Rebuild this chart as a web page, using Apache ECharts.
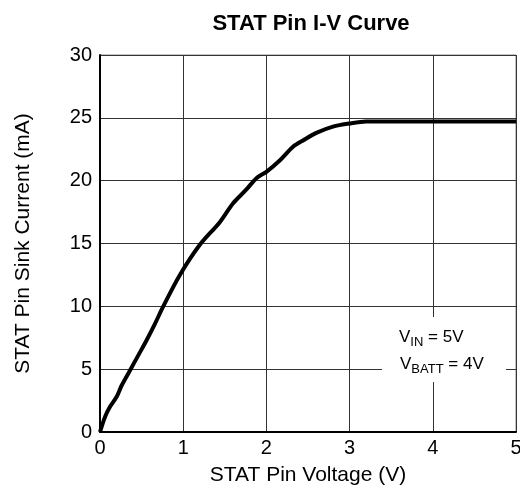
<!DOCTYPE html>
<html>
<head>
<meta charset="utf-8">
<script src="https://cdn.jsdelivr.net/npm/echarts@6/dist/echarts.min.js"></script>
<style>
  html, body { margin: 0; padding: 0; background: #fff; }
  #chart { width: 520px; height: 488px; }
</style>
</head>
<body>
<div id="chart"></div>
<script>
// STAT pin voltage (V) vs sink current (mA)
const voltage = [0, 0.06, 0.12, 0.2, 0.26, 0.36, 0.46, 0.56, 0.66, 0.76, 0.96, 1.2, 1.44, 1.6, 1.76, 1.88, 2.0, 2.16, 2.32, 2.44, 2.6, 2.8, 3.0, 3.2, 5.0]
const current = [0, 1.2, 2.0, 2.8, 3.7, 4.9, 6.1, 7.3, 8.6, 10.0, 12.5, 14.9, 16.7, 18.2, 19.3, 20.2, 20.7, 21.6, 22.7, 23.2, 23.8, 24.3, 24.55, 24.7, 24.7]

const font = 'Liberation Sans, Arial, sans-serif'

const myChart = echarts.init(document.getElementById('chart'))

myChart.setOption({
  animation: false,
  title: {
    text: 'STAT Pin I-V Curve',
    left: 306,
    top: 8,
    textAlign: 'center',
    textStyle: { fontFamily: font, fontSize: 22, fontWeight: 'bold', color: '#000' }
  },
  grid: {
    left: 100,
    right: 4,
    top: 55,
    bottom: 56,
    outerBoundsMode: 'none',
    show: true,
    borderColor: '#888',
    borderWidth: 1
  },
  xAxis: {
    type: 'value',
    min: 0,
    max: 5,
    interval: 1,
    name: 'STAT Pin Voltage (V)',
    nameLocation: 'middle',
    nameGap: 33,
    nameTextStyle: { fontFamily: font, fontSize: 21, color: '#000' },
    axisLine: { lineStyle: { color: '#000', width: 2 } },
    axisTick: { show: false },
    axisLabel: { fontFamily: font, fontSize: 20, color: '#000', margin: 6 },
    splitLine: { lineStyle: { color: '#333', width: 1 } }
  },
  yAxis: {
    type: 'value',
    min: 0,
    max: 30,
    interval: 5,
    name: 'STAT Pin Sink Current (mA)',
    nameLocation: 'middle',
    nameGap: 66,
    nameTextStyle: { fontFamily: font, fontSize: 21, color: '#000' },
    axisLine: { show: true, lineStyle: { color: '#000', width: 2 } },
    axisTick: { show: false },
    axisLabel: { fontFamily: font, fontSize: 20, color: '#000', margin: 8 },
    splitLine: { lineStyle: { color: '#333', width: 1 } }
  },
  graphic: [
    {
      type: 'rect',
      shape: { x: 382, y: 317, width: 124, height: 65 },
      style: { fill: '#fff' },
      z: 10
    },
    {
      type: 'text',
      x: 399,
      y: 337,
      z: 11,
      style: {
        text: 'V{sub|IN} = 5V',
        fontFamily: font,
        fontSize: 17,
        fill: '#000',
        verticalAlign: 'middle',
        rich: {
          sub: { fontFamily: font, fontSize: 13, fill: '#000', padding: [10, 0, 0, 0] }
        }
      }
    },
    {
      type: 'text',
      x: 400,
      y: 364,
      z: 11,
      style: {
        text: 'V{sub|BATT} = 4V',
        fontFamily: font,
        fontSize: 17,
        fill: '#000',
        verticalAlign: 'middle',
        rich: {
          sub: { fontFamily: font, fontSize: 13, fill: '#000', padding: [10, 0, 0, 0] }
        }
      }
    }
  ],
  series: [
    {
      type: 'line',
      data: voltage.map((v, i) => [v, current[i]]),
      showSymbol: false,
      smooth: 0.3,
      lineStyle: { color: '#000', width: 4 },
      z: 5
    }
  ]
})
</script>
</body>
</html>
